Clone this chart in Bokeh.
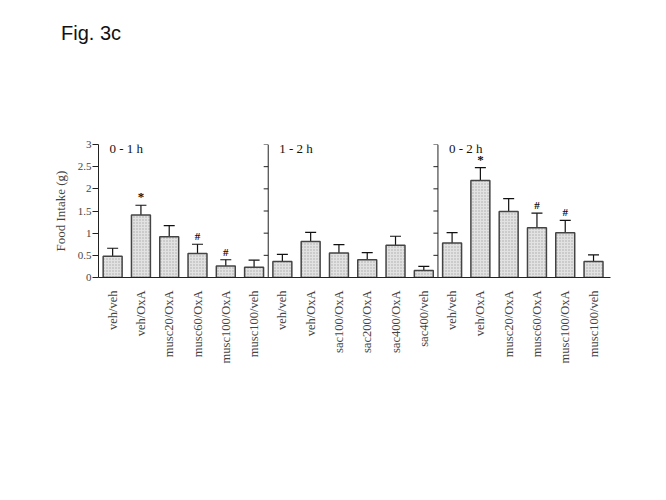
from bokeh.plotting import figure
from bokeh.layouts import column
from bokeh.models import (ColumnDataSource, Range1d, FixedTicker, Whisker, TeeHead,
                          Label, Span, Div)
from bokeh.core.properties import value
from bokeh.embed import file_html
from bokeh.resources import INLINE

# ---- data ----
fig_title = "Fig. 3c"
panels = ["0 - 1 h", "1 - 2 h", "0 - 2 h"]
labels_p1 = ["veh/veh", "veh/OxA", "musc20/OxA", "musc60/OxA", "musc100/OxA", "musc100/veh"]
labels_p2 = ["veh/veh", "veh/OxA", "sac100/OxA", "sac200/OxA", "sac400/OxA", "sac400/veh"]
labels_p3 = ["veh/veh", "veh/OxA", "musc20/OxA", "musc60/OxA", "musc100/OxA", "musc100/veh"]
means_p1 = [0.48, 1.41, 0.92, 0.54, 0.26, 0.23]
sem_p1 = [0.18, 0.22, 0.25, 0.21, 0.14, 0.16]
means_p2 = [0.36, 0.81, 0.55, 0.40, 0.73, 0.16]
sem_p2 = [0.16, 0.21, 0.19, 0.16, 0.20, 0.09]
means_p3 = [0.78, 2.19, 1.49, 1.12, 1.01, 0.36]
sem_p3 = [0.23, 0.29, 0.29, 0.33, 0.28, 0.15]
marks_p1 = ["", "*", "", "#", "#", ""]
marks_p2 = ["", "", "", "", "", ""]
marks_p3 = ["", "*", "", "#", "#", ""]
y_ticks = [0, 0.5, 1, 1.5, 2, 2.5, 3]
y_tick_labels = ["0", "0.5", "1", "1.5", "2", "2.5", "3"]

labels = labels_p1 + labels_p2 + labels_p3
means = means_p1 + means_p2 + means_p3
sems = sem_p1 + sem_p2 + sem_p3
marks = marks_p1 + marks_p2 + marks_p3
n_per = len(labels_p1)
xs = list(range(len(labels)))
uppers = [m + s for m, s in zip(means, sems)]

src = ColumnDataSource(dict(
    x=xs, top=means, upper=uppers,
    lower=[m - s for m, s in zip(means, sems)],
))
star_src = ColumnDataSource(dict(
    x=[x for x, m in zip(xs, marks) if m == "*"],
    y=[u for u, m in zip(uppers, marks) if m == "*"],
    t=[m for m in marks if m == "*"]))
hash_src = ColumnDataSource(dict(
    x=[x for x, m in zip(xs, marks) if m == "#"],
    y=[u for u, m in zip(uppers, marks) if m == "#"],
    t=[m for m in marks if m == "#"]))

SERIF = "Liberation Serif"
DIV_H = 40
TOP = 94

p = figure(width=650, height=444, output_backend="svg", toolbar_location=None,
           x_range=Range1d(-0.5, len(labels) - 0.4), y_range=Range1d(0, 3),
           min_border_left=98, min_border_right=40, min_border_top=TOP,
           min_border_bottom=444 - TOP - 133)
p.outline_line_color = None
p.grid.grid_line_color = None
p.background_fill_color = "white"

p.vbar(x="x", top="top", width=0.67, source=src, fill_color="#e2e2e2",
       line_color="#444444", line_width=1.5,
       hatch_pattern="dot", hatch_color="#a8a8a8", hatch_scale=3, hatch_weight=0.5)

p.add_layout(Whisker(source=src, base="x", upper="upper", lower="lower",
                     line_color="#111111", line_width=1.2,
                     upper_head=TeeHead(size=11, line_color="#111111", line_width=1.2),
                     lower_head=TeeHead(size=11, line_color="#111111", line_width=1.2)))

p.text(x="x", y="y", text="t", source=star_src, text_align="center",
       text_baseline="bottom", y_offset=-1, text_font=value(SERIF),
       text_font_size="13px", text_font_style="bold", text_color="#111111")
p.text(x="x", y="y", text="t", source=hash_src, text_align="center",
       text_baseline="bottom", y_offset=-2, text_font=value(SERIF),
       text_font_size="11px", text_font_style="bold", text_color="#111111")

# separators between panels with left tick marks
for k in range(1, len(panels)):
    sep = k * n_per - 0.5
    p.add_layout(Span(location=sep, dimension="height", line_color="#222222",
                      line_width=1))
    p.segment(x0=[sep] * len(y_ticks), x1=[sep - 0.16] * len(y_ticks),
              y0=y_ticks, y1=y_ticks, line_color="#222222", line_width=1)

for k, name in enumerate(panels):
    p.add_layout(Label(x=k * n_per - 0.5, y=3.0, x_offset=11, y_offset=4,
                       text=name, text_font=SERIF, text_font_size="13px",
                       text_baseline="top", text_color="#111111"))

# y axis
ya = p.yaxis[0]
ya.ticker = FixedTicker(ticks=y_ticks)
ya.major_label_overrides = {t: s for t, s in zip(y_ticks, y_tick_labels)}
ya.minor_tick_line_color = None
ya.major_tick_in = 0
ya.major_tick_out = 6
ya.axis_line_color = "#222222"
ya.major_tick_line_color = "#222222"
ya.major_label_text_font = SERIF
ya.major_label_text_font_size = "11px"
ya.major_label_standoff = 1
ya.axis_label = "Food Intake (g)"
ya.axis_label_text_font = SERIF
ya.axis_label_text_font_style = "normal"
ya.axis_label_text_font_size = "13px"
ya.axis_label_standoff = 7

# x axis
xa = p.xaxis[0]
xa.ticker = FixedTicker(ticks=xs)
xa.major_label_overrides = {i: s for i, s in enumerate(labels)}
xa.major_label_orientation = 3.14159265 / 2
xa.major_tick_line_color = None
xa.minor_tick_line_color = None
xa.axis_line_color = "#222222"
xa.major_label_text_font = SERIF
xa.major_label_text_font_size = "12.5px"
xa.major_label_standoff = 7

div = Div(text=('<div style="font-family:\'Liberation Sans\';font-size:20px;'
                'line-height:23px;color:#111;padding:17px 0 0 56px">'
                + fig_title + '</div>'), width=650, height=DIV_H)

open("out.html", "w").write(file_html(column(div, p, spacing=0), INLINE))
